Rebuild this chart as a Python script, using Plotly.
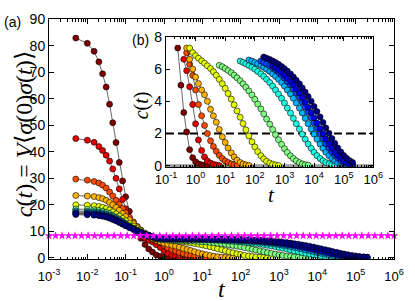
import plotly.graph_objects as go

# ---------------- data ----------------
time_grid = [0.005, 0.01, 0.015, 0.02, 0.025, 0.031, 0.038, 0.046, 0.056, 0.068, 0.083,
             0.1, 0.125, 0.16, 0.2, 0.25, 0.32, 0.4, 0.5, 0.63, 0.8,
             1, 1.25, 1.6, 2, 2.5, 3.2, 4, 5, 6.3, 8,
             10, 12.5, 16, 20, 25, 32, 40, 50, 63, 80,
             100, 125, 160, 200, 250, 320, 400, 500, 630, 800,
             1000, 1250, 1600, 2000, 2500, 3200, 4000, 5000, 6300, 8000,
             10000, 12500, 16000, 20000, 25000, 32000, 40000, 50000, 63000, 80000,
             100000, 125000, 160000, 200000]

c_s0 = [83, 81, 78, 74, 69.5, 64.5, 58, 51, 43.5, 36, 29,
        23, 17.5, 12.5, 9.5, 7.3, 5.0, 3.3, 2.1, 1.0, 0.5,
        0.25, 0.12, 0.06, 0.03, 0.02]
c_s1 = [45, 44.4, 43.6, 42, 40.5, 38.7, 36.5, 33.5, 30, 26, 22,
        18.5, 15.0, 12.0, 9.8, 8.4, 7.4, 6.6, 5.9, 4.9, 3.8,
        2.6, 1.6, 0.95, 0.55, 0.3, 0.17, 0.09, 0.05, 0.02]
c_s2 = [29.7, 29.3, 28.8, 28.2, 27.4, 26.3, 24.8, 23.3, 21.7, 20.2, 18.6,
        17.0, 15.3, 13.5, 11.8, 10.3, 9.0, 7.9, 7.0, 6.3, 5.6,
        4.7, 3.8, 3.1, 2.5, 2.0, 1.55, 1.2, 0.9, 0.65, 0.45, 0.3, 0.2, 0.12, 0.07, 0.04]
c_s3 = [23.5, 23.3, 23.1, 22.7, 22.3, 21.7, 20.9, 20.0, 19.0, 17.9, 16.7,
        15.6, 14.3, 12.9, 11.6, 10.4, 9.2, 8.2, 7.3, 6.6, 6.0,
        5.5, 5.1, 4.7, 4.4, 4.0, 3.5, 3.1, 2.7, 2.25, 1.8, 1.45, 1.1, 0.8, 0.55,
        0.35, 0.2, 0.11, 0.05, 0.02]
c_s4 = [19.97, 19.83, 19.63, 19.37, 19.05, 18.6, 18.03, 17.32, 16.56, 15.73, 14.83,
        13.94, 12.97, 11.94, 10.96, 10.11, 9.25, 8.56, 7.99, 7.3, 7.02,
        6.83, 6.67, 6.50, 6.36, 6.20, 6.03, 5.83, 5.61, 5.36, 5.09, 4.80, 4.48, 4.14,
        3.78, 3.40, 3.01, 2.62, 2.23, 1.85, 1.49, 1.17, 0.88, 0.63, 0.43, 0.28, 0.17,
        0.09, 0.05, 0.02]
c_s5 = [18.39, 18.27, 18.1, 17.86, 17.56, 17.15, 16.64, 16.0, 15.31, 14.56, 13.75,
        12.96, 12.09, 11.17, 10.29, 9.54, 8.79, 8.19, 7.71, 7.11, 6.91,
        6.79, 6.70, 6.63, 6.58, 6.53, 6.47, 6.40, 6.32, 6.23, 6.14, 6.03, 5.91, 5.77,
        5.62, 5.46, 5.28, 5.08, 4.87, 4.64, 4.39, 4.12, 3.83, 3.53, 3.22, 2.90, 2.58,
        2.25, 1.93, 1.62, 1.33, 1.06, 0.83, 0.62, 0.45, 0.31, 0.20, 0.12, 0.07, 0.04]
c_s6 = [17.69, 17.58, 17.43, 17.21, 16.94, 16.57, 16.09, 15.51, 14.87, 14.18, 13.44,
        12.69, 11.89, 11.04, 10.24, 9.55, 8.85, 8.31, 7.89, 7.35, 7.18,
        7.07, 7.02, 6.97, 6.96, 6.94, 6.92, 6.90, 6.87, 6.84, 6.81, 6.77, 6.72, 6.68,
        6.62, 6.56, 6.49, 6.41, 6.32, 6.22, 6.11, 5.99, 5.85, 5.70, 5.54, 5.36, 5.16,
        4.94, 4.70, 4.45, 4.18, 3.89, 3.58, 3.27, 2.94, 2.61, 2.28, 1.96, 1.65, 1.35,
        1.08, 0.84, 0.63, 0.45, 0.31, 0.20, 0.13, 0.07, 0.04]
c_s7 = [17.29, 17.19, 17.04, 16.83, 16.58, 16.22, 15.76, 15.2, 14.59, 13.92, 13.21,
        12.49, 11.72, 10.91, 10.14, 9.47, 8.80, 8.28, 7.88, 7.37, 7.20,
        7.11, 7.07, 7.03, 7.02, 7.00, 6.99, 6.97, 6.96, 6.94, 6.92, 6.90, 6.87, 6.84,
        6.81, 6.77, 6.72, 6.68, 6.62, 6.56, 6.49, 6.41, 6.32, 6.22, 6.11, 5.99, 5.85,
        5.70, 5.54, 5.36, 5.16, 4.94, 4.70, 4.45, 4.18, 3.89, 3.58, 3.27, 2.94, 2.61,
        2.28, 1.96, 1.65, 1.35, 1.08, 0.84, 0.63, 0.45, 0.31, 0.20, 0.13, 0.07, 0.04]
c_s8 = [16.89, 16.79, 16.65, 16.45, 16.21, 15.87, 15.44, 14.9, 14.32, 13.69, 13.01,
        12.33, 11.59, 10.82, 10.09, 9.46, 8.83, 8.33, 7.95, 7.45, 7.31,
        7.22, 7.18, 7.14, 7.14, 7.12, 7.11, 7.10, 7.09, 7.07, 7.06, 7.04, 7.02, 7.00,
        6.97, 6.94, 6.90, 6.86, 6.82, 6.77, 6.71, 6.65, 6.58, 6.50, 6.41, 6.31, 6.20,
        6.08, 5.94, 5.79, 5.62, 5.43, 5.23, 5.01, 4.77, 4.51, 4.23, 3.94, 3.63, 3.31,
        2.98, 2.65, 2.31, 1.99, 1.67, 1.37, 1.09, 0.85, 0.64, 0.46, 0.32, 0.21, 0.13,
        0.07, 0.04]
c_s9 = [16.59, 16.5, 16.36, 16.17, 15.93, 15.6, 15.18, 14.66, 14.1, 13.49, 12.83,
        12.17, 11.47, 10.71, 10.0, 9.39, 8.78, 8.31, 7.92, 7.45, 7.30,
        7.23, 7.18, 7.15, 7.14, 7.14, 7.12, 7.11, 7.10, 7.09, 7.07, 7.06, 7.04, 7.02,
        7.00, 6.97, 6.94, 6.90, 6.86, 6.82, 6.77, 6.71, 6.65, 6.58, 6.50, 6.41, 6.31,
        6.20, 6.08, 5.94, 5.79, 5.62, 5.43, 5.23, 5.01, 4.77, 4.51, 4.23, 3.94, 3.63,
        3.31, 2.98, 2.65, 2.31, 1.99, 1.67, 1.37, 1.09, 0.85, 0.64, 0.46, 0.32, 0.21,
        0.13, 0.07]
c_s10 = [16.29, 16.2, 16.07, 15.89, 15.66, 15.35, 14.94, 14.45, 13.91, 13.32, 12.69,
         12.06, 11.39, 10.67, 9.99, 9.41, 8.82, 8.36, 8.0, 7.55, 7.42,
         7.33, 7.30, 7.26, 7.25, 7.25, 7.24, 7.23, 7.22, 7.21, 7.20, 7.19, 7.17, 7.15,
         7.14, 7.12, 7.09, 7.06, 7.03, 7.00, 6.96, 6.91, 6.86, 6.81, 6.74, 6.67, 6.59,
         6.50, 6.40, 6.29, 6.16, 6.02, 5.87, 5.69, 5.51, 5.30, 5.08, 4.83, 4.57, 4.29,
         4.00, 3.68, 3.36, 3.03, 2.69, 2.35, 2.01, 1.69, 1.39, 1.11, 0.86, 0.64, 0.47,
         0.32, 0.21]

series = [c_s0, c_s1, c_s2, c_s3, c_s4, c_s5, c_s6, c_s7, c_s8, c_s9, c_s10]
series_colors = ['rgb(128,0,0)', 'rgb(230,0,0)', 'rgb(255,77,0)', 'rgb(255,179,0)',
                 'rgb(230,255,0)', 'rgb(128,255,128)', 'rgb(26,255,230)', 'rgb(0,179,255)',
                 'rgb(0,77,255)', 'rgb(0,0,230)', 'rgb(0,0,128)']
inset_start_t = [0.25, 0.4, 0.5, 0.5, 0.63, 6.3, 32, 63, 160, 400, 200]

star_log_t = [-3.00, -2.83, -2.66, -2.49, -2.32, -2.15, -1.98, -1.81, -1.64, -1.47,
              -1.30, -1.13, -0.96, -0.79, -0.62, -0.45, -0.28, -0.11, 0.06, 0.23,
              0.40, 0.57, 0.74, 0.91, 1.08, 1.25, 1.42, 1.59, 1.76, 1.93,
              2.10, 2.27, 2.44, 2.61, 2.78, 2.95, 3.12, 3.29, 3.46, 3.63,
              3.80, 3.97, 4.14, 4.31, 4.48, 4.65, 4.82, 4.99, 5.16, 5.33,
              5.50, 5.67, 5.84, 6.00]
star_level = 8.3
threshold_level = 2.0

main_tickvals = [1e-3, 1e-2, 1e-1, 1, 1e1, 1e2, 1e3, 1e4, 1e5, 1e6]
main_ticktext = ['10<sup>-3</sup>', '10<sup>-2</sup>', '10<sup>-1</sup>', '10<sup>0</sup>',
                 '10<sup>1</sup>', '10<sup>2</sup>', '10<sup>3</sup>', '10<sup>4</sup>',
                 '10<sup>5</sup>', '10<sup>6</sup>']
inset_tickvals = main_tickvals[2:]
inset_ticktext = main_ticktext[2:]

# ---------------- figure ----------------
fig = go.Figure()

for vals, col in zip(series, series_colors):
    fig.add_trace(go.Scatter(
        x=time_grid[:len(vals)], y=vals, mode='lines+markers',
        line=dict(color='black', width=0.6),
        marker=dict(size=6, color=col, line=dict(color='black', width=0.6)),
        xaxis='x', yaxis='y', showlegend=False, hoverinfo='skip'))

fig.add_trace(go.Scatter(
    x=[10 ** e for e in star_log_t], y=[star_level] * len(star_log_t),
    mode='lines+markers', line=dict(color='#ff00ff', width=1, dash='dot'),
    marker=dict(symbol='star', size=6.5, color='#ff00ff', line=dict(width=0)),
    xaxis='x', yaxis='y', showlegend=False, hoverinfo='skip', cliponaxis=False))

# inset reference lines
fig.add_trace(go.Scatter(x=[0.1, 1e6], y=[0, 0], mode='lines',
                         line=dict(color='#999999', width=3),
                         xaxis='x2', yaxis='y2', showlegend=False, hoverinfo='skip'))
fig.add_trace(go.Scatter(x=[0.1, 1e6], y=[threshold_level, threshold_level], mode='lines',
                         line=dict(color='black', width=2, dash='8px,4px'),
                         xaxis='x2', yaxis='y2', showlegend=False, hoverinfo='skip'))

for vals, col, t0 in zip(series, series_colors, inset_start_t):
    xs = [t for t in time_grid[:len(vals)] if t >= t0]
    ys = [v for t, v in zip(time_grid[:len(vals)], vals) if t >= t0]
    fig.add_trace(go.Scatter(
        x=xs, y=ys, mode='lines+markers',
        line=dict(color='black', width=0.6),
        marker=dict(size=6, color=col, line=dict(color='black', width=0.6)),
        xaxis='x2', yaxis='y2', showlegend=False, hoverinfo='skip'))

tickfont = dict(family='Liberation Sans, Arial, sans-serif', size=13, color='black')
axis_common = dict(showline=True, linecolor='black', linewidth=1, mirror='ticks',
                   ticks='inside', tickcolor='black', tickwidth=1, showgrid=False,
                   zeroline=False, tickfont=tickfont)

fig.update_layout(
    width=415, height=301,
    margin=dict(l=49, r=21, t=11, b=42),
    paper_bgcolor='white', plot_bgcolor='white',
    xaxis=dict(type='log', range=[-3, 6], domain=[0, 1], anchor='y',
               tickmode='array', tickvals=main_tickvals, ticktext=main_ticktext,
               ticklen=5, ticklabelstandoff=5,
               minor=dict(ticks='inside', ticklen=2.5, dtick='D1', tickcolor='black',
                          showgrid=False),
               **axis_common),
    yaxis=dict(range=[-0.5, 90.2], domain=[0, 1], anchor='x', dtick=10, ticklen=5,
               **{**axis_common, 'tickfont': dict(tickfont, size=14)}),
    xaxis2=dict(type='log', range=[-1, 6], domain=[0.339, 0.94], anchor='y2',
                tickmode='array', tickvals=inset_tickvals, ticktext=inset_ticktext,
                ticklen=4,
                minor=dict(ticks='inside', ticklen=2, dtick='D1', tickcolor='black',
                           showgrid=False),
                **axis_common),
    yaxis2=dict(range=[-0.08, 8], domain=[0.383, 0.926], anchor='x2',
                tickvals=[0, 2, 4, 6, 8], ticklen=4,
                **{**axis_common, 'tickfont': dict(tickfont, size=14)}),
)

serif = 'Liberation Serif, Times New Roman, serif'
sans = 'Liberation Sans, Arial, sans-serif'
annotations = [
    dict(text='(a)', x=-0.107, y=0.988, font=dict(family=sans, size=14)),
    dict(text='(b)', x=0.264, y=0.911, font=dict(family=sans, size=14)),
    dict(text='<i>c</i>(<i>t</i>) = <i>V</i>\u27e8<i>\u03c3</i>(0)<i>\u03c3</i>(<i>t</i>)\u27e9',
         x=-0.0725, y=0.52, textangle=-90, font=dict(family=serif, size=24)),
    dict(text='<i>t</i>', x=0.5, y=-0.125, font=dict(family=serif, size=24)),
    dict(text='<i>c</i>(<i>t</i>)', x=0.267, y=0.641, textangle=-90,
         font=dict(family=serif, size=20)),
    dict(text='<i>t</i>', x=0.646, y=0.266, font=dict(family=serif, size=21)),
]
for a in annotations:
    a.update(xref='paper', yref='paper', showarrow=False, xanchor='center',
             yanchor='middle')
    a['font']['color'] = 'black'
fig.update_layout(annotations=annotations)

fig.write_html('out.html', config={'displayModeBar': False},
               post_script="document.body.style.margin='0px';document.body.style.padding='0px';")
